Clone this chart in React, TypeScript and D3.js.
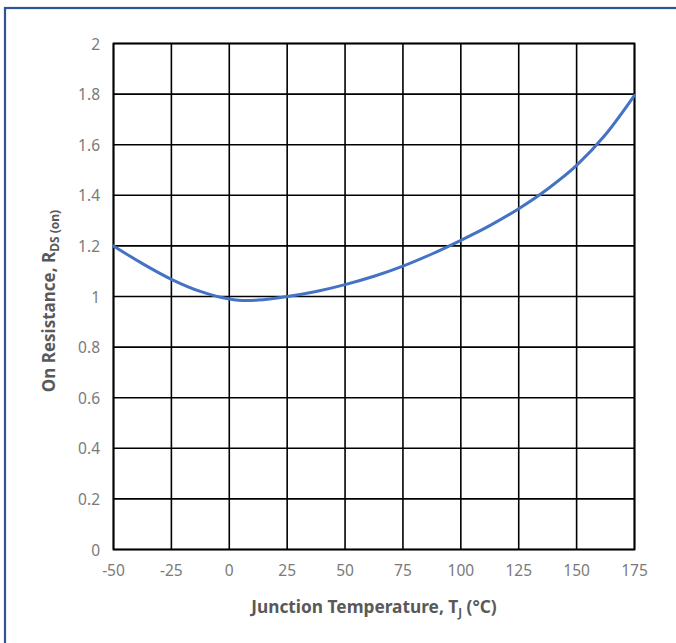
import React from "react";
import * as d3 from "d3";

const temps = [-50, -37.5, -25, -12.5, 0, 7, 12.5, 25, 37.5, 50, 62.5, 75, 87.5, 100, 112.5, 125, 137.5, 150, 162.5, 175];
const rdsOn = [1.2, 1.13, 1.068, 1.02, 0.99, 0.984, 0.986, 1.0, 1.02, 1.047, 1.08, 1.12, 1.168, 1.222, 1.28, 1.347, 1.425, 1.518, 1.64, 1.795];
const xTicks = [-50, -25, 0, 25, 50, 75, 100, 125, 150, 175];
const yTicks = [0, 0.2, 0.4, 0.6, 0.8, 1, 1.2, 1.4, 1.6, 1.8, 2];

const W = 676, H = 643;
const left = 113.5, right = 634.5, top = 43.5, bottom = 549.5;

export default function App() {
  const x = d3.scaleLinear().domain([-50, 175]).range([left, right]);
  const y = d3.scaleLinear().domain([0, 2]).range([bottom, top]);
  const line = d3.line<number>()
    .x((_, i) => x(temps[i]))
    .y((d) => y(d))
    .curve(d3.curveMonotoneX);
  const font = "'Noto Sans', 'Open Sans', sans-serif";
  return (
    <svg width={W} height={H} style={{ position: "absolute", left: 0, top: 0, background: "#fff" }} fontFamily={font}>
      <rect x={0} y={0} width={W} height={H} fill="#fff" />
      <rect x={5} y={8} width={720} height={700} fill="none" stroke="#2F5597" strokeWidth={2.2} />
      {xTicks.map((t) => (
        <line key={"vx" + t} x1={x(t)} x2={x(t)} y1={top} y2={bottom} stroke="#000" strokeWidth={1.6} />
      ))}
      {yTicks.map((t) => (
        <line key={"hy" + t} x1={left} x2={right} y1={y(t)} y2={y(t)} stroke="#000" strokeWidth={1.6} />
      ))}
      <rect x={left} y={top} width={right - left} height={bottom - top} fill="none" stroke="#000" strokeWidth={1.8} />
      <path d={line(rdsOn) || ""} fill="none" stroke="#4472C4" strokeWidth={3} strokeLinecap="round" />
      {xTicks.map((t) => (
        <text key={"xl" + t} x={x(t)} y={576} textAnchor="middle" fontSize={15.5} fill="#7a7a7a">{t}</text>
      ))}
      {yTicks.map((t) => (
        <text key={"yl" + t} x={100} y={y(t) + 6} textAnchor="end" fontSize={15.5} fill="#7a7a7a">{t}</text>
      ))}
      <text x={374} y={613} textAnchor="middle" fontSize={17.3} fontWeight="bold" fill="#595959">
        Junction Temperature, T<tspan fontSize={11.5} dy={4}>J</tspan><tspan dy={-4}> (°C)</tspan>
      </text>
      <text transform={`translate(55, 301) rotate(-90)`} textAnchor="middle" fontSize={17} fontWeight="bold" fill="#595959">
        On Resistance, R<tspan fontSize={12} dy={4}>DS (on)</tspan>
      </text>
    </svg>
  );
}
